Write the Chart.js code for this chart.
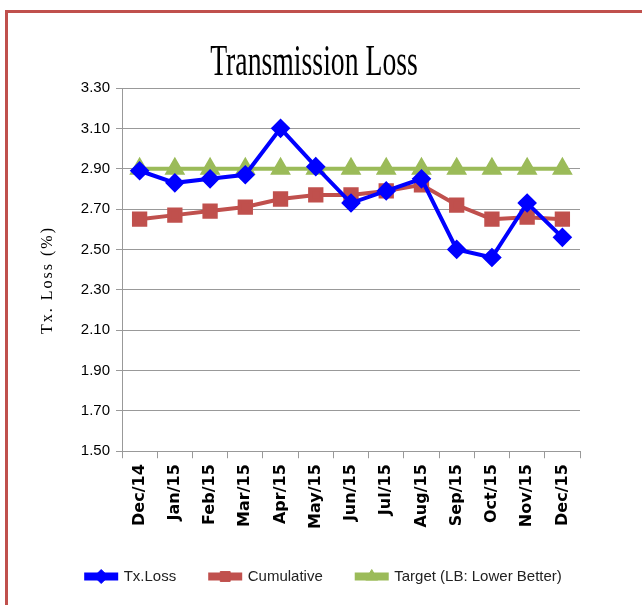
<!DOCTYPE html>
<html>
<head>
<meta charset="utf-8">
<script src="https://cdn.jsdelivr.net/npm/chart.js@4"></script>
<style>
  html, body { margin: 0; padding: 0; background: #fff; overflow: hidden; }
  #frame {
    position: absolute; left: 5px; top: 10px; width: 700px; height: 700px;
    border-left: 3px solid #c0504d; border-top: 3px solid #c0504d;
  }
  #chart { position: absolute; left: 0; top: 0; }
</style>
</head>
<body>
<div id="frame"></div>
<canvas id="chart" width="642" height="605"></canvas>
<script>
"use strict";
const months = ['Dec/14', 'Jan/15', 'Feb/15', 'Mar/15', 'Apr/15', 'May/15', 'Jun/15',
    'Jul/15', 'Aug/15', 'Sep/15', 'Oct/15', 'Nov/15', 'Dec/15'];
const txLoss = [2.89, 2.83, 2.85, 2.87, 3.10, 2.91, 2.73, 2.79, 2.85, 2.50, 2.46, 2.73, 2.56];
const cumulative = [2.65, 2.67, 2.69, 2.71, 2.75, 2.77, 2.77, 2.79, 2.82, 2.72, 2.65, 2.66, 2.65];
const target = [2.90, 2.90, 2.90, 2.90, 2.90, 2.90, 2.90, 2.90, 2.90, 2.90, 2.90, 2.90, 2.90];
const yTicks = [1.5, 1.7, 1.9, 2.1, 2.3, 2.5, 2.7, 2.9, 3.1, 3.3];
const chartTitle = 'Transmission Loss';
const yTitle = 'Tx. Loss (%)';

// title and y-axis title drawn by hand: the original fonts are squeezed narrow
const textPlugin = {
    id: 'textPlugin',
    afterDraw(chart) {
        const ctx = chart.ctx;
        ctx.save();
        ctx.fillStyle = '#000';
        ctx.textAlign = 'center';
        ctx.textBaseline = 'alphabetic';
        ctx.font = "44px 'Liberation Serif', serif";
        ctx.translate(314, 75);
        ctx.scale(0.63, 1);
        ctx.fillText(chartTitle, 0, 0);
        ctx.restore();

        ctx.save();
        ctx.fillStyle = '#000';
        ctx.textAlign = 'center';
        ctx.textBaseline = 'middle';
        ctx.font = "16px 'Liberation Serif', serif";
        ctx.letterSpacing = '2px';
        ctx.translate(48, 280);
        ctx.rotate(-Math.PI / 2);
        ctx.fillText(yTitle, 0, 0);
        ctx.restore();
    }
};

// draws the marker on top of each legend line
const legendMarkers = {
    id: 'legendMarkers',
    afterDraw(chart) {
        const legend = chart.legend;
        if (!legend || !legend.legendHitBoxes) return;
        const ctx = chart.ctx;
        legend.legendHitBoxes.forEach((box, i) => {
            const ds = chart.data.datasets[i];
            ctx.save();
            ctx.fillStyle = ds.borderColor;
            ctx.strokeStyle = ds.borderColor;
            Chart.helpers.drawPoint(ctx, {
                pointStyle: ds.pointStyle,
                radius: 7,
                rotation: 0,
                borderWidth: 1
            }, box.left + legend.options.labels.boxWidth / 2, box.top + box.height / 2);
            ctx.restore();
        });
    }
};

function makeSet(label, data, color, style, radius) {
    return {
        label: label,
        data: data,
        borderColor: color,
        backgroundColor: color,
        borderWidth: 4,
        pointStyle: style,
        pointRadius: radius,
        pointHoverRadius: radius,
        pointBackgroundColor: color,
        pointBorderColor: color,
        tension: 0
    };
}

new Chart(document.getElementById('chart'), {
    type: 'line',
    data: {
        labels: months,
        datasets: [
            makeSet('Tx.Loss', txLoss, '#0000ff', 'rectRot', 7),
            makeSet('Cumulative', cumulative, '#c0504d', 'rect', 8),
            makeSet('Target (LB: Lower Better)', target, '#9bbb59', 'triangle', 8)
        ]
    },
    options: {
        responsive: false,
        animation: false,
        layout: { padding: { left: 8, right: 2, top: 88, bottom: 11 } },
        plugins: {
            title: { display: false },
            legend: {
                position: 'bottom',
                labels: {
                    boxWidth: 30,
                    boxHeight: 4,
                    color: '#222',
                    padding: 34,
                    font: { family: "'Liberation Sans', sans-serif", size: 15 }
                }
            },
            tooltip: { enabled: false }
        },
        scales: {
            x: {
                offset: true,
                grid: { display: true, drawOnChartArea: false, offset: true, color: '#999', tickLength: 7 },
                border: { color: '#999' },
                ticks: {
                    color: '#000',
                    minRotation: 90,
                    maxRotation: 90,
                    padding: 6,
                    font: { family: "'DejaVu Sans', sans-serif", size: 16, weight: 'bold' }
                }
            },
            y: {
                min: 1.5,
                max: 3.3,
                afterBuildTicks(axis) {
                    axis.ticks = yTicks.map(v => ({ value: v }));
                },
                afterFit(axis) { axis.width = 114; },
                grid: { color: '#999', tickLength: 6 },
                border: { color: '#999' },
                ticks: {
                    color: '#000',
                    padding: 6,
                    callback: v => Number(v).toFixed(2),
                    font: { family: "'Liberation Sans', sans-serif", size: 15 }
                }
            },
            yRight: {
                position: 'right',
                min: 1.5,
                max: 3.3,
                afterFit(axis) { axis.width = 60; },
                grid: { drawOnChartArea: false, display: false },
                border: { display: false },
                ticks: { display: false }
            }
        }
    },
    plugins: [textPlugin, legendMarkers]
});
</script>
</body>
</html>
